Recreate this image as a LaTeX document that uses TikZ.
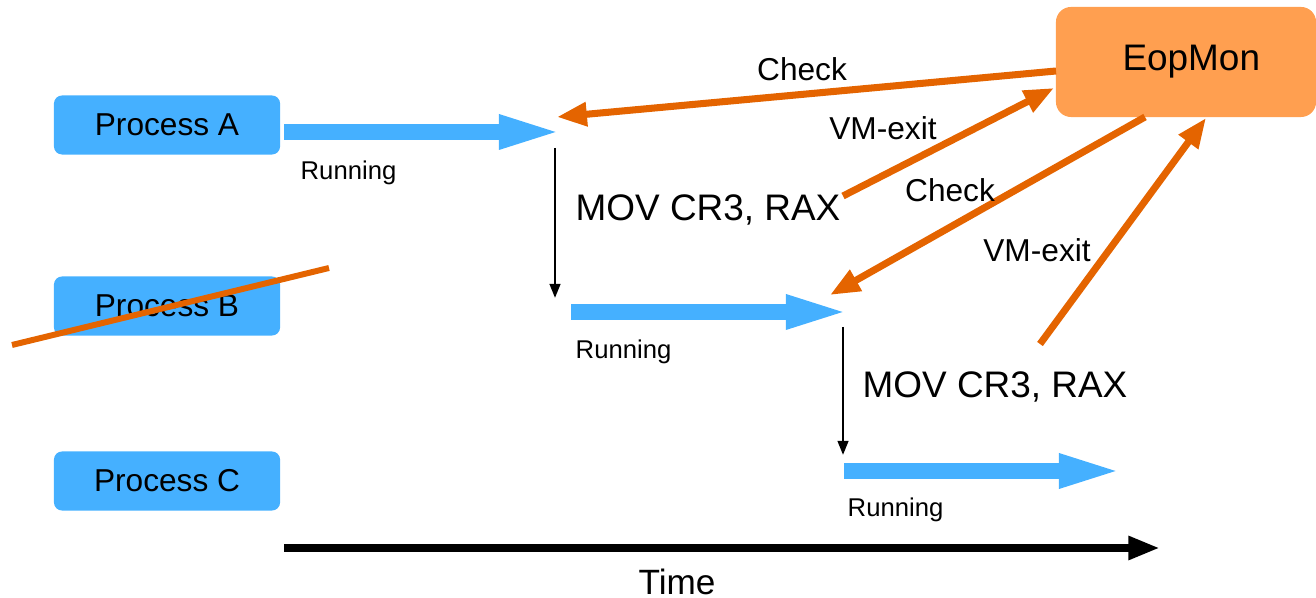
\documentclass[tikz,border=0pt]{standalone}
\usepackage{fontspec}
\setmainfont{Liberation Sans}
\usetikzlibrary{arrows.meta}
\definecolor{procblue}{HTML}{45B0FF}
\definecolor{monfill}{HTML}{FF9F50}
\definecolor{monline}{HTML}{E46400}
\tikzset{
    proc/.style={fill=procblue, rounded corners=2.3pt, minimum width=2.26cm, minimum height=0.59cm, inner sep=0pt, font=\fontsize{9}{10}\selectfont},
    runarrow/.style={procblue, line width=4.3pt, -{Triangle[length=18.5pt,width=8.6pt]}},
    runlabel/.style={anchor=west, inner sep=0pt, font=\fontsize{7.3}{8}\selectfont},
    cswitch/.style={line width=0.7pt, -{Triangle[length=4pt,width=3pt]}},
    movlabel/.style={anchor=west, inner sep=0pt, font=\fontsize{10.5}{12}\selectfont},
    monarrow/.style={monline, line width=2pt, -{Triangle[length=8.5pt,width=6.5pt]}},
    monlabel/.style={inner sep=0pt, font=\fontsize{9}{10}\selectfont}
}

\begin{document}
\begin{tikzpicture}[x=0.01cm, y=-0.01cm]
    \useasboundingbox (0,0) rectangle (1316,598);
    % processes
    \node[proc] (procA) at (167,125) {Process A};
    \node[proc] (procB) at (167,306) {Process B};
    \node[proc] (procC) at (167,481) {Process C};
    \node[fill=monfill, rounded corners=4.3pt, minimum width=2.6cm, minimum height=1.1cm, inner sep=0pt, font=\fontsize{10.5}{12}\selectfont] (eop) at (1186,62) {\hspace*{3pt}EopMon};

    % running phases
    \coordinate (runA0) at (284,132);
    \coordinate (runA1) at (564,132);
    \coordinate (runB0) at (571,312);
    \coordinate (runB1) at (851,312);
    \coordinate (runC0) at (844,471);
    \coordinate (runC1) at (1124,471);
    \draw[runarrow] (runA0) -- (runA1);
    \draw[runarrow] (runB0) -- (runB1);
    \draw[runarrow] (runC0) -- (runC1);
    \node[runlabel] (runtxtA) at (300,173) {Running};
    \node[runlabel] (runtxtB) at (575,352) {Running};
    \node[runlabel] (runtxtC) at (847,510) {Running};

    % context switches
    \coordinate (swA0) at (555,148);
    \coordinate (swA1) at (555,298);
    \coordinate (swB0) at (843,327);
    \coordinate (swB1) at (843,455);
    \draw[cswitch] (swA0) -- (swA1);
    \draw[cswitch] (swB0) -- (swB1);
    \node[movlabel] (movA) at (575,210) {MOV CR3, RAX};
    \node[movlabel] (movB) at (862,387) {MOV CR3, RAX};

    % monitor traffic
    \coordinate (chkA0) at (1056,71);
    \coordinate (chkA1) at (557,117);
    \coordinate (exitA0) at (843,196);
    \coordinate (exitA1) at (1054,88);
    \coordinate (chkB0) at (1145,117);
    \coordinate (chkB1) at (830,295);
    \coordinate (exitB0) at (1040,344);
    \coordinate (exitB1) at (1206,118);
    \draw[monarrow] (chkA0) -- (chkA1);
    \draw[monarrow] (exitA0) -- (exitA1);
    \draw[monarrow] (chkB0) -- (chkB1);
    \draw[monarrow] (exitB0) -- (exitB1);
    \node[monlabel] (chktxtA) at (802,69) {Check};
    \node[monlabel] (exittxtA) at (883,128) {VM-exit};
    \node[monlabel] (chktxtB) at (950,190) {Check};
    \node[monlabel] (exittxtB) at (1037,250) {VM-exit};

    % process B is gone
    \coordinate (crossB0) at (12,345);
    \coordinate (crossB1) at (329,268);
    \draw[monline, line width=1.7pt] (crossB0) -- (crossB1);

    % time axis
    \coordinate (time0) at (284,548);
    \coordinate (time1) at (1160,548);
    \draw[line width=2.3pt, -{Triangle[length=9pt,width=6.3pt]}] (time0) -- (time1);
    \node[inner sep=0pt, font=\fontsize{10}{12}\selectfont] (timetxt) at (677,582) {Time};
\end{tikzpicture}
\end{document}
